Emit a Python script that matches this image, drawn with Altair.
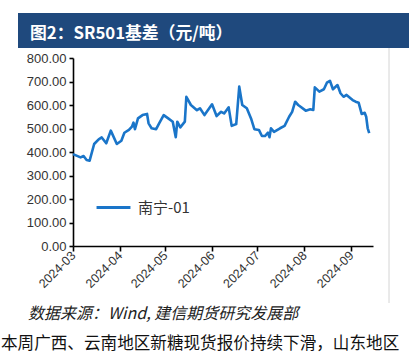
import altair as alt
import pandas as pd

dates = ["2024-03-01","2024-03-06","2024-03-08","2024-03-10","2024-03-12","2024-03-15","2024-03-18",
         "2024-03-20","2024-03-23","2024-03-26","2024-03-30","2024-04-02","2024-04-04","2024-04-07",
         "2024-04-09","2024-04-10","2024-04-11","2024-04-13","2024-04-16","2024-04-19","2024-04-20",
         "2024-04-22","2024-04-25","2024-04-27","2024-04-30","2024-05-03","2024-05-06","2024-05-08",
         "2024-05-09","2024-05-11","2024-05-14","2024-05-15","2024-05-18","2024-05-22","2024-05-24",
         "2024-05-27","2024-06-01","2024-06-04","2024-06-07","2024-06-09","2024-06-12","2024-06-14",
         "2024-06-17","2024-06-19","2024-06-21","2024-06-24","2024-06-27","2024-06-29","2024-07-02",
         "2024-07-04","2024-07-06","2024-07-08","2024-07-09","2024-07-10","2024-07-12","2024-07-16",
         "2024-07-19","2024-07-22","2024-07-24","2024-07-26","2024-07-28","2024-08-02","2024-08-05",
         "2024-08-07","2024-08-08","2024-08-11","2024-08-14","2024-08-16","2024-08-18","2024-08-20",
         "2024-08-23","2024-08-25","2024-08-27","2024-08-29","2024-09-02","2024-09-04","2024-09-06",
         "2024-09-08","2024-09-10","2024-09-11","2024-09-12","2024-09-13"]
values = [391,377,383,366,363,434,454,
          462,437,491,434,448,482,494,
          508,525,497,543,557,562,522,
          501,497,522,557,543,529,463,
          529,505,529,635,600,578,586,
          557,603,553,571,564,590,511,
          519,678,600,586,539,497,494,
          468,468,482,463,501,486,501,
          511,550,571,614,600,576,582,
          579,675,657,667,695,703,667,
          685,650,635,643,621,614,610,
          562,567,550,501,480]
series_name = "南宁-01"
y_ticks = [0, 100, 200, 300, 400, 500, 600, 700, 800]
month_ticks = ["2024-03-01","2024-04-01","2024-05-01","2024-06-01","2024-07-01","2024-08-01","2024-09-01"]
title_text = "图2：SR501基差（元/吨）"
source_text = "数据来源：Wind, 建信期货研究发展部"
body_text = "本周广西、云南地区新糖现货报价持续下滑，山东地区"

df = pd.DataFrame({"date": dates, "value": values, "series": [series_name] * len(dates)})

def dt(s):
    y, m, d = s.split("-")
    return alt.DateTime(year=int(y), month=int(m), date=int(d), utc=True)

line = alt.Chart(df).mark_line(strokeWidth=2.6, strokeJoin="round").encode(
    x=alt.X("date:T",
            scale=alt.Scale(type="utc", domain=[dt("2024-03-01"), alt.DateTime(year=2024, month=9, date=15, hours=12, utc=True)]),
            axis=alt.Axis(title=None, values=[dt(s) for s in month_ticks], format="%Y-%m",
                          labelAngle=-45, labelAlign="right", labelBaseline="middle",
                          labelFont="Liberation Sans", labelFontSize=12.5, labelColor="#333333",
                          domainColor="#000000", domainWidth=1.6, tickColor="#000000",
                          tickWidth=1.6, tickSize=5, labelPadding=2, grid=False)),
    y=alt.Y("value:Q", scale=alt.Scale(domain=[0, 800], nice=False),
            axis=alt.Axis(title=None, values=y_ticks, format=".2f",
                          labelFont="Liberation Sans", labelFontSize=13, labelColor="#333333",
                          domainColor="#000000", domainWidth=1.6, tickColor="#000000",
                          tickWidth=1.6, tickSize=4, labelPadding=3, grid=False)),
    color=alt.Color("series:N", scale=alt.Scale(domain=[series_name], range=["#1A75C9"]),
                    legend=alt.Legend(title=None, orient="none", legendX=22, legendY=131,
                                      symbolType="stroke", symbolSize=1150, symbolStrokeWidth=2.8,
                                      labelFont="Noto Sans CJK SC", labelFontSize=15,
                                      labelColor="#333333", labelOffset=6, padding=0)),
)

one = pd.DataFrame({"t": [title_text]})
bar = alt.Chart(one).mark_rect(color="#1F497D").encode(
    x=alt.value(-55), x2=alt.value(336), y=alt.value(-45), y2=alt.value(-10))
title = alt.Chart(one).mark_text(align="left", baseline="alphabetic", color="white",
                                 font="Noto Sans CJK SC", fontWeight="bold", fontSize=16.8).encode(
    x=alt.value(-43), y=alt.value(-19), text="t:N")
vline = alt.Chart(one).mark_rule(color="#D4D4D4", strokeWidth=1).encode(
    x=alt.value(316), y=alt.value(-10), y2=alt.value(245))
src = alt.Chart(pd.DataFrame({"t": [source_text]})).mark_text(
    align="left", baseline="alphabetic", color="#222222", font="Noto Sans CJK SC",
    fontStyle="italic", fontSize=16).encode(x=alt.value(-45), y=alt.value(261), text="t:N")
body = alt.Chart(pd.DataFrame({"t": [body_text]})).mark_text(
    align="left", baseline="alphabetic", color="#111111", font="Noto Sans CJK SC",
    fontSize=16.6).encode(x=alt.value(-72), y=alt.value(291), text="t:N")

chart = alt.layer(bar, title, vline, line, src, body).properties(
    width=300, height=188,
    padding={"left": 73, "top": 58, "right": 36, "bottom": 107},
    autosize=alt.AutoSizeParams(type="none"),
    background="white",
).configure_view(stroke=None)

chart.save("out.html", embed_options={"renderer": "svg", "actions": False})
